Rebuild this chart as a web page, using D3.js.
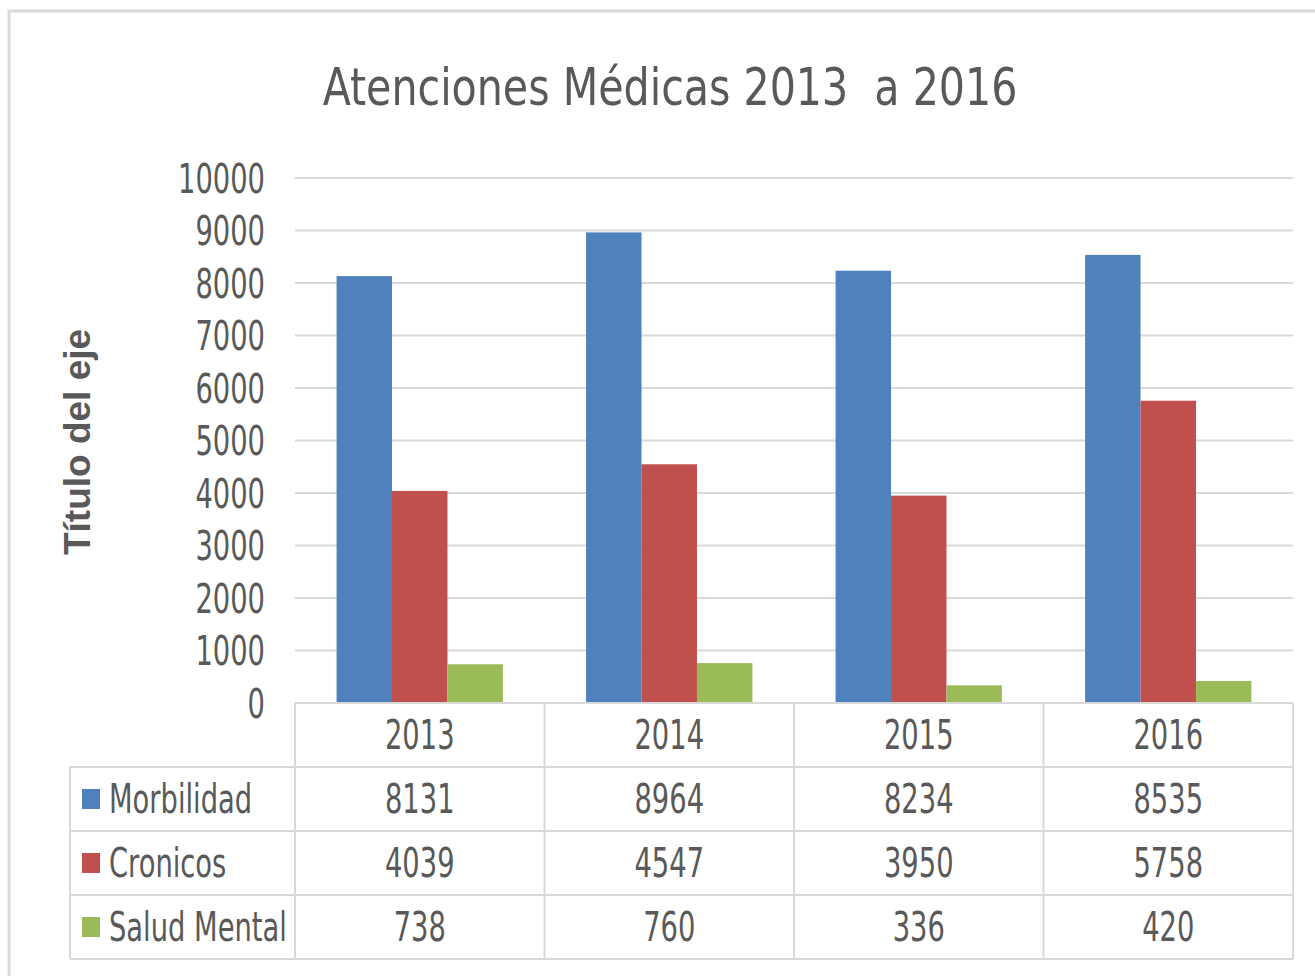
<html>
<head>
  <title>Atenciones Medicas</title>
  <meta charset="utf-8" />
  <style type="text/css">
    body { margin: 0; background: white; }
    svg { display: block; }
    text { font-family: "DejaVu Sans Condensed", "Liberation Sans Narrow", "Liberation Sans", sans-serif; fill: #595959; }
  </style>
  <script src="https://d3js.org/d3.v7.min.js" charset="utf-8" type="text/javascript"></script>
</head>
<body>
  <svg id="chart" width="1315" height="976"></svg>
<script>
  var years = ["2013", "2014", "2015", "2016"];
  var seriesNames = ["Morbilidad", "Cronicos", "Salud Mental"];
  var morbilidad = [8131, 8964, 8234, 8535];
  var cronicos = [4039, 4547, 3950, 5758];
  var saludMental = [738, 760, 336, 420];
  var yTicks = [0, 1000, 2000, 3000, 4000, 5000, 6000, 7000, 8000, 9000, 10000];

  var colors = d3.scaleOrdinal()
    .domain(seriesNames)
    .range(["#4f81bd", "#c0504d", "#9bbb59"]);

  var values = [morbilidad, cronicos, saludMental];

  var svg = d3.select("#chart");

  // narrow, tall text like the stretched excel export
  var SX = 0.76;
  function place(sel, px, py, sx) {
    sel.attr("transform", "translate(" + px + "," + py + ") scale(" + (sx || SX) + ",1)");
  }

  // frame
  svg.append("rect")
    .attr("x", 9).attr("y", 11)
    .attr("width", 1320).attr("height", 980)
    .style("fill", "none")
    .style("stroke", "#d9d9d9")
    .style("stroke-width", 3);

  var plotL = 295, plotR = 1293, plotT = 178, plotB = 703;
  var rowH = 64;

  var x = d3.scaleBand().domain(years).range([plotL, plotR]).paddingInner(0).paddingOuter(0);
  var xs = d3.scaleBand().domain(seriesNames).range([0, x.bandwidth()]).paddingInner(0).paddingOuter(0.75);
  var y = d3.scaleLinear().domain([0, 10000]).range([plotB, plotT]);

  // title
  svg.append("text")
    .style("text-anchor", "middle")
    .style("white-space", "pre")
    .style("font-size", "52px")
    .text("Atenciones Médicas 2013  a 2016")
    .call(place, 670, 105, 0.88);

  // gridlines
  svg.append("g").selectAll("line")
    .data(yTicks.filter(function (d) { return d > 0 }))
    .enter().append("line")
    .attr("x1", plotL).attr("x2", plotR)
    .attr("y1", function (d) { return y(d) }).attr("y2", function (d) { return y(d) })
    .style("stroke", "#d9d9d9").style("stroke-width", 2);

  // y axis labels
  var yAxis = d3.axisLeft(y).tickValues(yTicks).tickFormat(d3.format("d")).tickSize(0);
  var gy = svg.append("g").attr("transform", "translate(" + plotL + ",0)").call(yAxis);
  gy.select(".domain").remove();
  gy.attr("font-family", null).attr("font-size", null);
  gy.selectAll("text")
    .attr("fill", null)
    .style("font-size", "40px")
    .attr("dy", "0.36em")
    .attr("x", null)
    .each(function () { d3.select(this).call(place, -30, 0) });

  // axis title
  svg.append("text")
    .attr("transform", "translate(90,442) rotate(-90)")
    .style("text-anchor", "middle")
    .style("font-family", "'Liberation Sans', sans-serif")
    .style("font-weight", "bold")
    .style("font-size", "37px")
    .text("Título del eje");

  // bars
  var groups = svg.append("g").selectAll("g")
    .data(seriesNames)
    .enter().append("g")
    .style("fill", function (d) { return colors(d) });

  groups.each(function (s, i) {
    d3.select(this).selectAll("rect")
      .data(values[i])
      .enter().append("rect")
      .attr("x", function (d, j) { return x(years[j]) + xs(s) })
      .attr("width", xs.bandwidth())
      .attr("y", function (d) { return y(d) })
      .attr("height", function (d) { return plotB - y(d) });
  });

  // data table
  var tableLeft = 70;
  var lineStyle = function (sel) { sel.style("stroke", "#d9d9d9").style("stroke-width", 2) };
  var tbl = svg.append("g");

  tbl.append("line").attr("x1", plotL).attr("x2", plotR).attr("y1", plotB).attr("y2", plotB).call(lineStyle);
  for (var r = 1; r <= 4; r++) {
    tbl.append("line").attr("x1", tableLeft).attr("x2", plotR)
      .attr("y1", plotB + r * rowH).attr("y2", plotB + r * rowH).call(lineStyle);
  }
  tbl.append("line").attr("x1", tableLeft).attr("x2", tableLeft)
    .attr("y1", plotB + rowH).attr("y2", plotB + 4 * rowH).call(lineStyle);
  years.forEach(function (yr) {
    tbl.append("line").attr("x1", x(yr)).attr("x2", x(yr))
      .attr("y1", plotB).attr("y2", plotB + 4 * rowH).call(lineStyle);
  });
  tbl.append("line").attr("x1", plotR).attr("x2", plotR)
    .attr("y1", plotB).attr("y2", plotB + 4 * rowH).call(lineStyle);

  // header
  tbl.selectAll("text.year")
    .data(years)
    .enter().append("text")
    .attr("class", "year")
    .style("text-anchor", "middle")
    .style("font-size", "40px")
    .text(function (d) { return d })
    .each(function (d) { d3.select(this).call(place, x(d) + x.bandwidth() / 2, plotB + rowH / 2 + 14) });

  seriesNames.forEach(function (s, i) {
    var cy = plotB + (i + 1) * rowH + rowH / 2;
    tbl.append("rect")
      .attr("x", 82).attr("y", cy - 10)
      .attr("width", 18).attr("height", 20)
      .style("fill", colors(s));
    tbl.append("text")
      .style("font-size", "40px")
      .text(s)
      .call(place, 109, cy + 14);
    tbl.selectAll("text.v" + i)
      .data(values[i])
      .enter().append("text")
      .attr("class", "v" + i)
      .style("text-anchor", "middle")
      .style("font-size", "40px")
      .text(function (d) { return d })
      .each(function (d, j) { d3.select(this).call(place, x(years[j]) + x.bandwidth() / 2, cy + 14) });
  });
</script>
</body>
</html>
